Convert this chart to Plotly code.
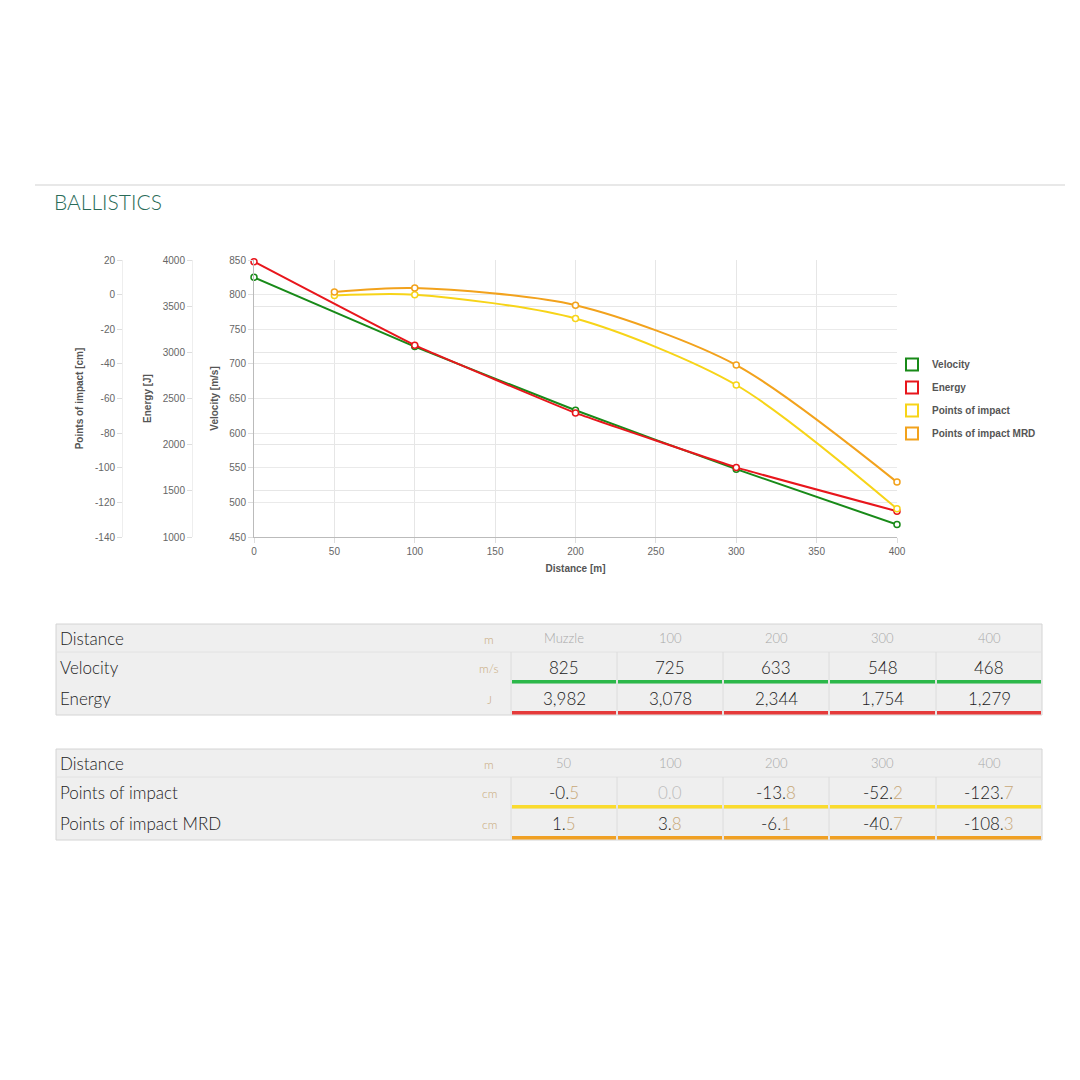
import plotly.graph_objects as go

# ---------------- data ----------------
distance_main = [0, 100, 200, 300, 400]
velocity = [825, 725, 633, 548, 468]
energy = [3982, 3078, 2344, 1754, 1279]

distance_poi = [50, 100, 200, 300, 400]
poi = [-0.5, 0.0, -13.8, -52.2, -123.7]
poi_mrd = [1.5, 3.8, -6.1, -40.7, -108.3]

table1_header = ["Muzzle", "100", "200", "300", "400"]
table2_header = ["50", "100", "200", "300", "400"]

poi_ticks = [-140, -120, -100, -80, -60, -40, -20, 0, 20]

series_names = ["Velocity", "Energy", "Points of impact", "Points of impact MRD"]
series_colors = ["#188a18", "#e8161c", "#f7d418", "#f2a21c"]
bar_colors = ["#2cb84a", "#e53a3a", "#fadb2e", "#f0a023"]

W = H = 1080


def px(x):
    return x / W


def py(y):
    return 1 - y / H


FONT = "Liberation Sans, Arial, sans-serif"
TFONT = "Lato, Open Sans, sans-serif"
TAN = "#c8a878"

fig = go.Figure()


def add_series(x, y, yaxis, color, smoothing):
    fig.add_trace(go.Scatter(x=x, y=y, yaxis=yaxis, mode="lines+markers", cliponaxis=False,
                             line=dict(color=color, width=2, shape="spline", smoothing=smoothing),
                             marker=dict(size=6, color="white", line=dict(color=color, width=1.5)),
                             showlegend=False))


add_series(distance_main, velocity, "y", series_colors[0], 0.3)
add_series(distance_main, energy, "y2", series_colors[1], 0.3)
add_series(distance_poi, poi, "y3", series_colors[2], 0.8)
add_series(distance_poi, poi_mrd, "y3", series_colors[3], 0.8)

# legend entries (open squares)
for i, (n, c) in enumerate(zip(series_names, series_colors)):
    fig.add_trace(go.Scatter(x=[None], y=[None], mode="markers", name=n, legendgroup=str(i),
                             marker=dict(symbol="square-open", size=12, color=c, line=dict(width=2))))

axis_title_font = dict(family=FONT, size=10, color="#555555", weight="bold")
tick_font = dict(family=FONT, size=10, color="#666666")

fig.update_layout(
    width=W, height=H,
    margin=dict(l=0, r=0, t=0, b=0),
    paper_bgcolor="white", plot_bgcolor="white",
    xaxis=dict(domain=[px(254), px(897)], range=[0, 400], dtick=50, tick0=0,
               showgrid=True, gridcolor="#e6e6e6", gridwidth=1,
               showline=True, linecolor="#bbbbbb", linewidth=1,
               ticks="outside", ticklen=5, tickcolor="#dddddd",
               tickfont=tick_font, zeroline=False, automargin=False,
               title=dict(text="Distance [m]", font=axis_title_font, standoff=8)),
    yaxis=dict(domain=[py(537), py(260)], range=[450, 850], dtick=50, tick0=450,
               showgrid=True, gridcolor="#d2d2d2", gridwidth=1,
               showline=True, linecolor="#bbbbbb", linewidth=1,
               ticks="outside", ticklen=5, tickcolor="#dddddd",
               tickfont=tick_font, zeroline=False, automargin=False,
               title=dict(text="Velocity [m/s]", font=axis_title_font, standoff=8)),
    yaxis2=dict(overlaying="y", anchor="free", position=px(192), side="left",
                range=[1000, 4000], dtick=500, tick0=1000,
                showgrid=True, gridcolor="#e6e6e6", gridwidth=1,
                showline=True, linecolor="#eeeeee", linewidth=1,
                ticks="outside", ticklen=5, tickcolor="#dddddd",
                tickfont=tick_font, zeroline=False, automargin=False,
                title=dict(text="Energy [J]", font=axis_title_font, standoff=8)),
    yaxis3=dict(overlaying="y", anchor="free", position=px(122), side="left",
                range=[-140, 20], tickmode="array", tickvals=poi_ticks,
                ticktext=[str(t) for t in poi_ticks],
                showgrid=True, gridcolor="#eaeaea", gridwidth=1,
                showline=True, linecolor="#eeeeee", linewidth=1,
                ticks="outside", ticklen=5, tickcolor="#dddddd",
                tickfont=tick_font, zeroline=False, automargin=False,
                title=dict(text="Points of impact [cm]", font=axis_title_font, standoff=8)),
    legend=dict(x=px(892), y=py(350), xanchor="left", yanchor="top",
                font=dict(family=FONT, size=10, color="#555555", weight="bold"),
                itemwidth=30, tracegroupgap=4, bgcolor="rgba(0,0,0,0)",
                traceorder="grouped"),
    showlegend=True,
)

shapes = []
annotations = []

# header rule and title
shapes.append(dict(type="line", xref="paper", yref="paper", x0=px(35), x1=px(1065), y0=py(185), y1=py(185),
                   line=dict(color="#e8e8e8", width=2)))
annotations.append(dict(text="BALLISTICS", xref="paper", yref="paper", x=px(52), y=py(201),
                        xanchor="left", yanchor="middle", showarrow=False,
                        font=dict(family=TFONT, size=21, color="#2a6b58", weight=300)))

# ---------------- tables ----------------
col_edges = [511, 617, 723, 829, 936, 1042]


def fmt_poi(v):
    s = f"{v:.1f}"
    if v == 0:
        return f"<span style='color:#bbbbbb'>{s}</span>"
    head, dec = s.split(".")
    return f"<span style='color:#1a1a1a'>{head}.</span><span style='color:{TAN}'>{dec}</span>"


def build_table(y0, header_vals, row_labels, units, row_texts, colors):
    shapes.append(dict(type="rect", xref="paper", yref="paper", x0=px(56), x1=px(1042), y0=py(y0), y1=py(y0 + 91),
                       fillcolor="#efefef", line=dict(color="#d4d4d4", width=1), layer="below"))
    shapes.append(dict(type="line", xref="paper", yref="paper", x0=px(56), x1=px(1042), y0=py(y0 + 28), y1=py(y0 + 28),
                       line=dict(color="#e2e2e2", width=1)))
    shapes.append(dict(type="line", xref="paper", yref="paper", x0=px(511), x1=px(1042), y0=py(y0 + 59), y1=py(y0 + 59),
                       line=dict(color="#dedede", width=1)))
    for xe in col_edges[:-1]:
        shapes.append(dict(type="line", xref="paper", yref="paper", x0=px(xe), x1=px(xe), y0=py(y0 + 28), y1=py(y0 + 91),
                           line=dict(color="#dcdcdc", width=1)))
    for r, ybar in enumerate([y0 + 56, y0 + 87]):
        for c in range(5):
            shapes.append(dict(type="rect", xref="paper", yref="paper",
                               x0=px(col_edges[c] + 1), x1=px(col_edges[c + 1] - 1),
                               y0=py(ybar), y1=py(ybar + 3.5),
                               fillcolor=colors[r], line=dict(width=0)))
    row_centers = [y0 + 14, y0 + 43, y0 + 74]
    labels = ["Distance"] + row_labels
    for i, lab in enumerate(labels):
        annotations.append(dict(text=lab, xref="paper", yref="paper", x=px(58), y=py(row_centers[i]),
                                xanchor="left", yanchor="middle", showarrow=False,
                                font=dict(family=TFONT, size=17, color="#222222", weight=300)))
        annotations.append(dict(text=(["m"] + units)[i], xref="paper", yref="paper", x=px(489), y=py(row_centers[i] + 1),
                                xanchor="center", yanchor="middle", showarrow=False,
                                font=dict(family=TFONT, size=12, color=TAN, weight=300)))
    for c, hv in enumerate(header_vals):
        xc = (col_edges[c] + col_edges[c + 1]) / 2
        annotations.append(dict(text=hv, xref="paper", yref="paper", x=px(xc), y=py(row_centers[0]),
                                xanchor="center", yanchor="middle", showarrow=False,
                                font=dict(family=TFONT, size=13, color="#a8a8a8", weight=300)))
        for r in range(2):
            annotations.append(dict(text=row_texts[r][c], xref="paper", yref="paper", x=px(xc), y=py(row_centers[r + 1]),
                                    xanchor="center", yanchor="middle", showarrow=False,
                                    font=dict(family=TFONT, size=17, color="#1a1a1a", weight=300)))


build_table(624, table1_header, ["Velocity", "Energy"], ["m/s", "J"],
            [[f"{v:,}" for v in velocity], [f"{v:,}" for v in energy]],
            [bar_colors[0], bar_colors[1]])
build_table(749, table2_header, ["Points of impact", "Points of impact MRD"], ["cm", "cm"],
            [[fmt_poi(v) for v in poi], [fmt_poi(v) for v in poi_mrd]],
            [bar_colors[2], bar_colors[3]])

fig.update_layout(shapes=shapes, annotations=annotations)

fig.write_html("out.html")
